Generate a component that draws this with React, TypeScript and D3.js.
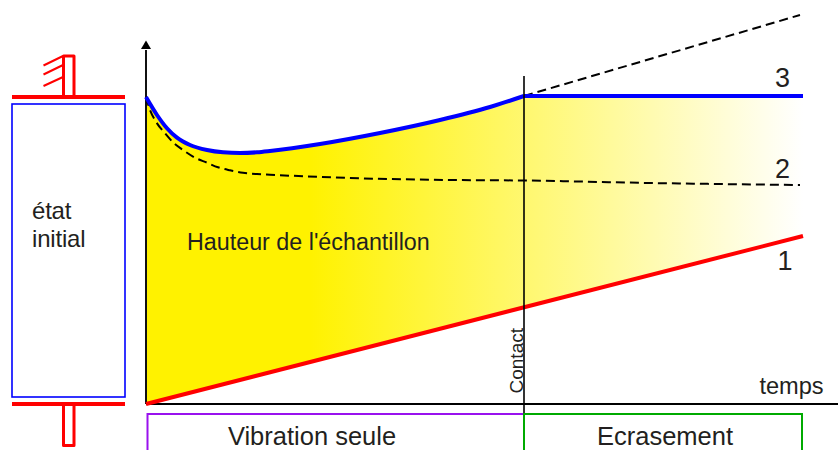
import React from "react";
import * as d3 from "d3";

const W = 838, H = 450;
// time (0 at origin) and height above the time axis
const blueT = [0, 11, 21, 31, 44, 61, 77, 94, 111, 124, 174, 234, 294, 344, 378];
const blueH = [307, 289, 275.7, 266.3, 259, 254, 251.7, 251, 251.7, 253, 260, 271, 284, 297, 308];
const flatT = [378, 657];
const flatH = [308, 308];
const dashT = [0, 4, 10, 19, 27, 37, 49, 61, 72, 84, 97, 111, 124, 204, 304, 378, 504, 654];
const dashH = [307, 294, 282.3, 270.7, 261.7, 254, 246.3, 241.3, 236.7, 233.7, 231.3, 230, 229.3, 226, 224, 223.5, 221, 219];
const riseT = [378, 654];
const riseH = [308, 389];
const redT = [0, 657];
const redH = [0, 168];
const contactT = 378;
const labels = ["3", "2", "1"];
const phases = ["Vibration seule", "Ecrasement"];

const x = d3.scaleLinear().domain([0, 657]).range([146, 803]);
const y = d3.scaleLinear().domain([0, 404]).range([404, 0]);
const pts = (t: number[], h: number[]) => t.map((v, i) => [v, h[i]] as [number, number]);
const line = d3.line<[number, number]>().x(d => x(d[0])).y(d => y(d[1]));
const curve = d3.line<[number, number]>().x(d => x(d[0])).y(d => y(d[1])).curve(d3.curveMonotoneX);
const topEdge = [...pts(blueT, blueH), ...pts(flatT, flatH).slice(1)];
const redAt = d3.scaleLinear().domain(redT).range(redH);
const area = d3.area<[number, number]>().x(d => x(d[0])).y0(d => y(redAt(d[0]))).y1(d => y(d[1])).curve(d3.curveMonotoneX);

const font = "'Liberation Sans', Arial, sans-serif";
const ink = "#231f20";

export default function App() {
  const cx = x(contactT);
  return (
    <svg width={W} height={H} viewBox={`0 0 ${W} ${H}`} style={{ position: "absolute", left: 0, top: 0, background: "#fff" }} fontFamily={font}>
      <defs>
        <linearGradient id="fade" gradientUnits="userSpaceOnUse" x1={146} x2={803} y1={0} y2={0}>
          <stop offset="0" stopColor="#fff200" />
          <stop offset="0.25" stopColor="#fff200" />
          <stop offset="1" stopColor="#ffffff" />
        </linearGradient>
      </defs>
      <path d={area(topEdge) ?? ""} fill="url(#fade)" />

      {/* specimen */}
      <rect x={12} y={104} width={113} height={293} fill="none" stroke="#0000ff" strokeWidth={1.6} />
      <line x1={12} x2={125} y1={97} y2={97} stroke="#ff0000" strokeWidth={4} />
      <line x1={12} x2={125} y1={404} y2={404} stroke="#ff0000" strokeWidth={4} />
      <path d="M63.5 96V56H74V96" fill="none" stroke="#ff0000" strokeWidth={3} strokeLinejoin="round" />
      <path d="M63 56L43.5 65.5M63 65L43.5 74.5M63 77L43.5 86" fill="none" stroke="#ff0000" strokeWidth={2} />
      <path d="M63.5 405V445.5H74V405" fill="none" stroke="#ff0000" strokeWidth={3} strokeLinejoin="round" />
      <text x={32} y={219} fontSize={24} letterSpacing={-0.2} fill={ink}>état</text>
      <text x={32} y={247} fontSize={24} letterSpacing={-0.2} fill={ink}>initial</text>

      {/* axes */}
      <line x1={146} x2={146} y1={50} y2={404} stroke="#111" strokeWidth={2} />
      <path d="M146 40.5L141 49H151Z" fill="#000" />
      <line x1={146} x2={838} y1={404} y2={404} stroke="#000" strokeWidth={2} />

      {/* curves */}
      <path d={line(pts(riseT, riseH)) ?? ""} fill="none" stroke="#000" strokeWidth={2} strokeDasharray="9 5" />
      <path d={curve(pts(dashT, dashH)) ?? ""} fill="none" stroke="#000" strokeWidth={2} strokeDasharray="9 5" />
      <path d={line(pts(redT, redH)) ?? ""} fill="none" stroke="#ff0000" strokeWidth={4} />
      <path d={curve(pts(blueT, blueH)) ?? ""} fill="none" stroke="#0000ff" strokeWidth={4} />
      <path d={line(pts(flatT, flatH)) ?? ""} fill="none" stroke="#0000ff" strokeWidth={4} />
      <line x1={cx} x2={cx} y1={76} y2={424} stroke="#000" strokeWidth={1.6} />

      <text x={782.5} y={87} fontSize={27} textAnchor="middle" fill={ink}>{labels[0]}</text>
      <text x={782.5} y={178} fontSize={27} textAnchor="middle" fill={ink}>{labels[1]}</text>
      <text x={785} y={270} fontSize={27} textAnchor="middle" fill={ink}>{labels[2]}</text>
      <text x={187} y={250} fontSize={23.3} fill={ink}>Hauteur de l'échantillon</text>
      <text x={791.5} y={394} fontSize={23.6} textAnchor="middle" fill={ink}>temps</text>
      <text transform={`translate(${cx - 1} 393.5) rotate(-90)`} fontSize={19} fill={ink}>Contact</text>

      {/* phases */}
      <path d={`M147.5 ${H + 4}V414H${cx}V${H + 4}`} fill="none" stroke="#9911ee" strokeWidth={2} />
      <path d={`M${cx} ${H + 4}V414H802V${H + 4}`} fill="none" stroke="#00aa00" strokeWidth={2} />
      <text x={312} y={445} fontSize={25.5} textAnchor="middle" fill={ink}>{phases[0]}</text>
      <text x={665} y={445} fontSize={25.5} textAnchor="middle" fill={ink}>{phases[1]}</text>
    </svg>
  );
}
